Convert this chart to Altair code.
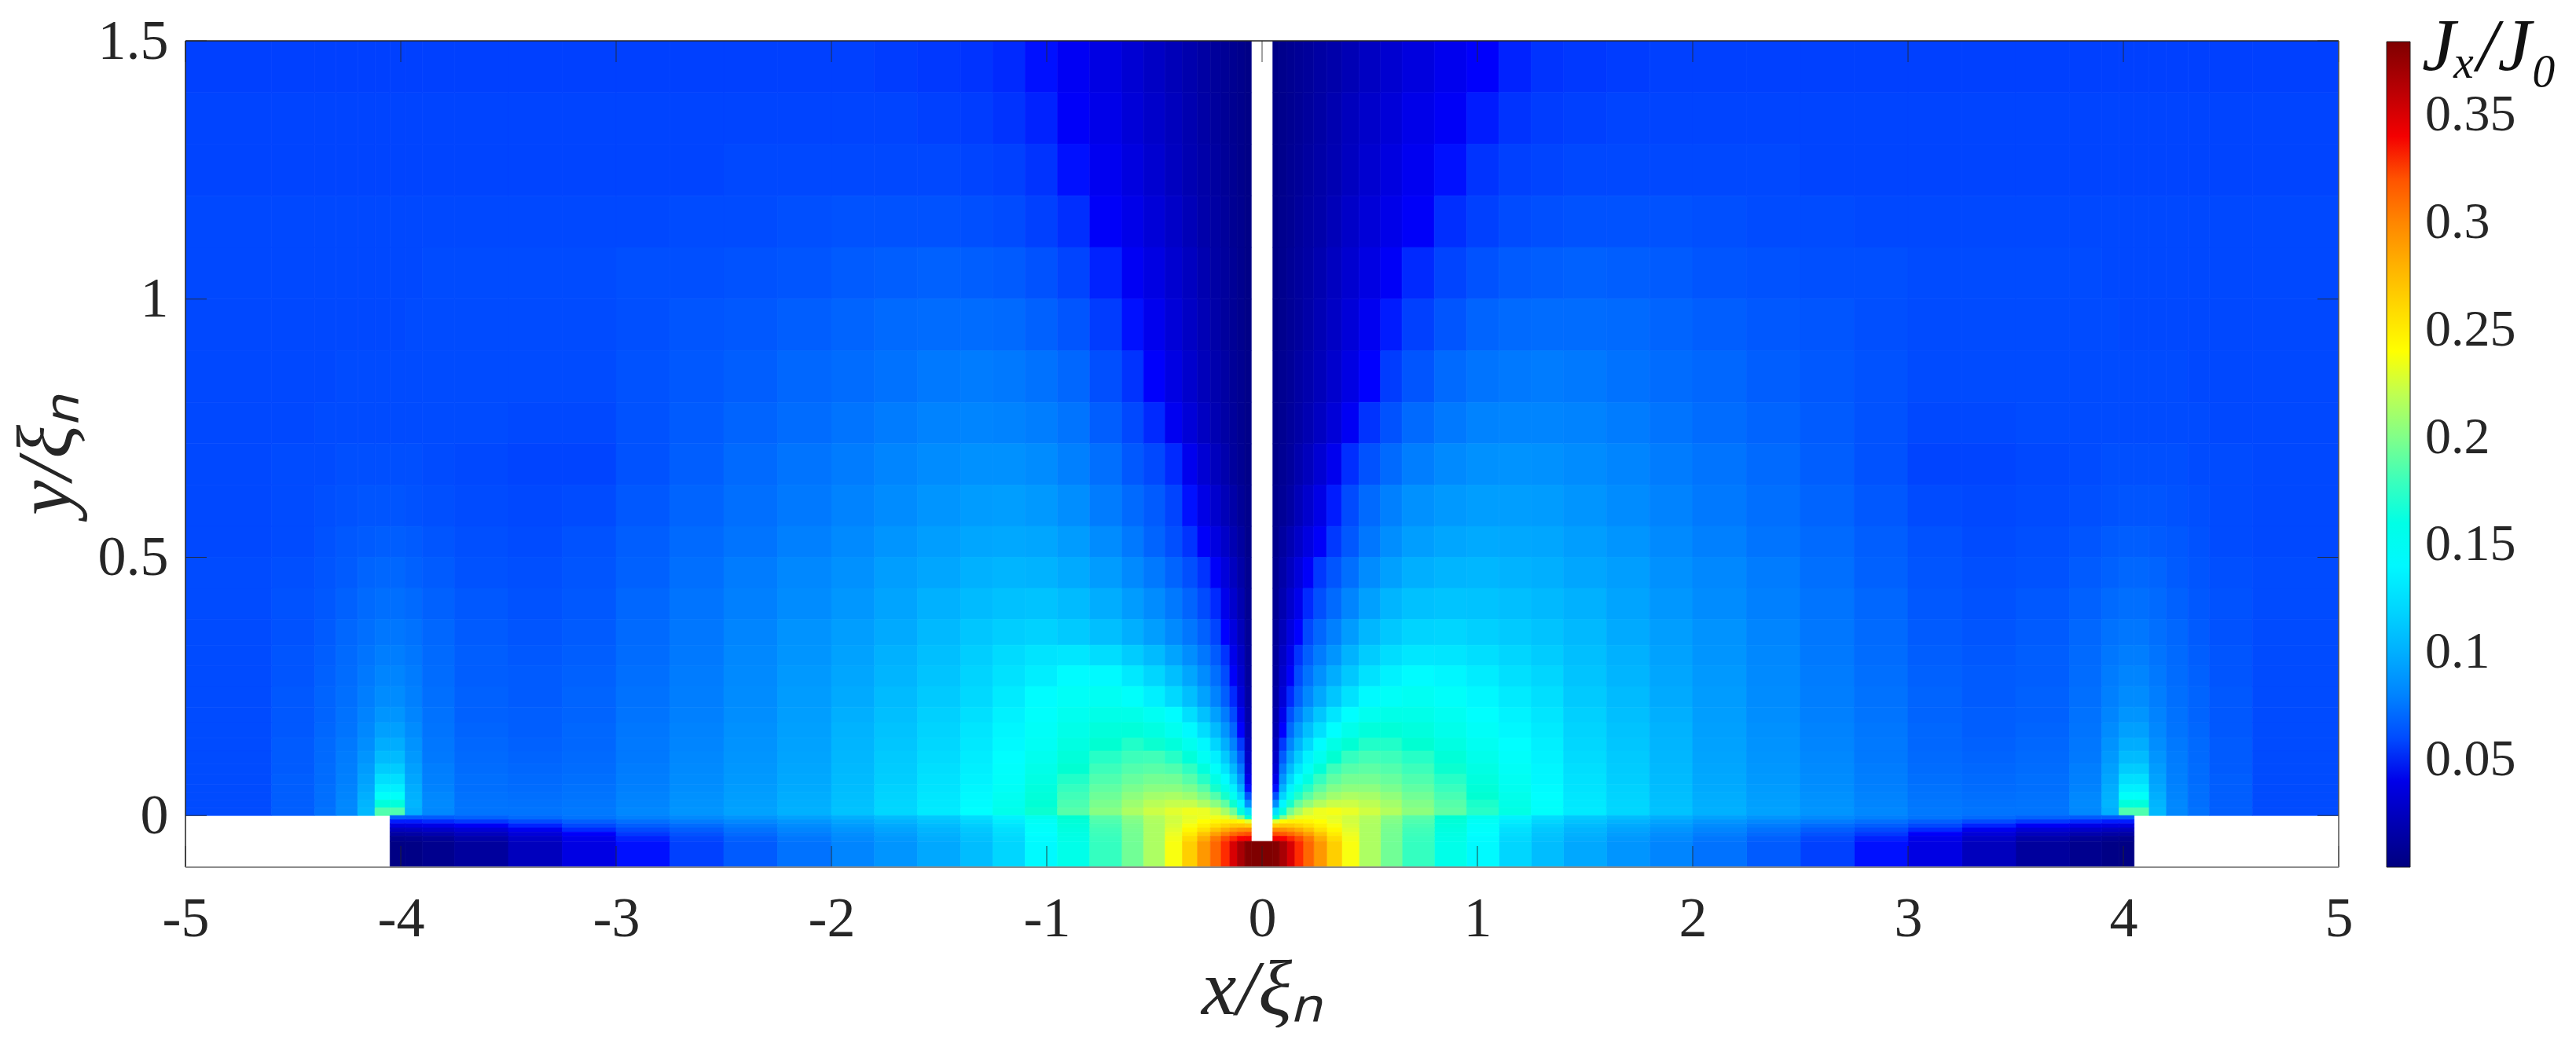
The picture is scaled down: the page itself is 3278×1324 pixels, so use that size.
import altair as alt
import pandas as pd

# ---- grid edges (left half; right half mirrors the edges)
x_edges_left = [-5, -4.6, -4.4, -4.3, -4.2, -4.12, -4.05, -3.98, -3.9, -3.75, -3.5, -3.25, -3, -2.75, -2.5,
                -2.25, -2, -1.8, -1.6, -1.4, -1.25, -1.1, -.95, -.8, -.65, -.55, -.45, -.37, -.3, -.24,
                -.19, -.15, -.115, -.08, -.05]
y_edges_upper = [1.5, 1.4, 1.3, 1.2, 1.1, 1.0, .9, .8, .72, .64, .56, .5, .44, .38, .33, .29, .25, .21, .18,
                 .15, .125, .1, .08, .06, .045, .03, .015, 0]
y_edges_strip = [0, -.008, -.016, -.024, -.032, -.04, -.05, -.1]

# ---- Jx/J0 x 1000 above y=0, x from -5 towards the slit, one list per y band, top to bottom
left_rows = [
    [57,57,57,57,57,57,57,57,57,57,57,57, 57,57,57,57, 57,56,55,54,52,49,44,38,32,27,22,18,14,11,9,7,5,3],
    [58,58,58,58,58,58,58,58,58,58,58,58, 58,58,58,58, 58,58,57,56,54,51,46,40,34,29,24,19,15,12,9,7,5,3],
    [58,58,58,58,58,58,58,58,58,58,58,58, 58,58,59,59, 59,59,59,58,57,54,49,43,37,31,25,20,16,13,10,8,5,3],
    [59,59,59,59,59,59,59,59,59,59,59,59, 59,60,60,61, 62,62,62,61,60,57,53,46,40,34,28,22,17,14,11,8,6,3],
    [59,59,59,59,59,59,59,59,60,60,60,60, 61,61,62,63, 65,66,67,66,65,62,58,51,44,38,31,25,19,15,12,9,6,3],
    [59,59,59,59,59,59,59,60,60,60,60,60, 61,63,64,66, 68,70,71,71,70,67,63,56,49,42,34,27,21,16,12,9,6,3],
    [59,59,59,60,60,60,60,60,60,60,60,60, 62,64,66,69, 71,73,76,77,76,73,69,61,54,47,38,30,23,18,14,10,7,4],
    [59,59,60,60,60,60,60,60,60,60,59,59, 62,65,68,71, 74,77,80,81,80,78,74,66,59,52,43,34,26,20,15,11,7,4],
    [59,60,60,61,61,61,61,61,60,59,58,58, 62,66,70,74, 77,81,84,86,86,84,79,72,64,59,52,42,32,24,18,12,8,4],
    [59,60,61,62,63,63,63,62,61,60,59,60, 64,68,72,76, 80,84,88,91,92,90,85,77,70,65,58,49,39,30,22,16,10,5],
    [59,60,62,64,65,66,66,65,63,61,60,62, 66,70,74,79, 83,88,92,96,97,96,91,84,76,68,61,54,46,37,28,20,13,5],
    [60,61,63,65,68,69,69,67,65,62,61,63, 67,72,77,82, 86,92,96,101,103,102,98,91,83,76,68,61,54,46,35,25,16,7],
    [60,62,64,67,70,72,72,70,67,64,62,64, 69,74,79,84, 89,95,101,106,109,110,106,99,91,84,76,68,60,52,41,30,19,8],
    [60,62,65,69,72,75,75,73,69,65,63,65, 70,75,81,87, 92,98,105,112,116,118,114,108,100,92,83,75,67,58,48,36,23,10],
    [60,63,66,70,74,78,78,75,70,66,64,66, 71,76,82,88, 94,101,108,116,123,128,130,124,115,106,95,85,75,65,54,41,27,11],
    [60,63,67,71,76,81,81,77,71,66,65,67, 72,77,83,90, 96,103,111,119,127,134,142,141,131,120,108,96,84,72,60,46,30,12],
    [60,64,68,72,78,84,84,79,72,67,65,68, 73,78,84,91, 98,106,114,122,132,143,150,152,147,135,122,108,94,80,66,52,34,14],
    [60,64,68,73,80,88,88,81,73,67,66,68, 74,79,85,92, 100,108,117,126,136,146,154,159,158,152,143,125,109,93,77,60,41,17],
    [60,64,69,74,82,93,93,84,74,68,66,69, 75,80,86,93, 102,110,119,129,139,149,158,165,166,162,154,141,124,106,88,69,48,20],
    [60,65,70,76,85,99,99,87,75,69,67,69, 76,81,87,94, 103,112,121,131,141,151,162,170,174,171,165,155,140,120,100,80,55,24],
    [60,65,70,77,88,106,106,90,76,70,68,70, 76,82,88,95, 104,114,123,133,144,155,166,175,180,181,175,166,151,135,114,92,65,28],
    [60,65,71,78,91,115,115,93,78,71,69,71, 77,83,89,96, 105,115,125,135,146,158,170,180,186,188,185,177,164,148,128,105,76,33],
    [60,66,71,79,94,125,125,96,79,72,70,72, 78,84,90,97, 106,116,127,137,148,161,174,185,192,196,195,187,175,160,143,120,88,40],
    [60,66,72,80,97,135,135,99,80,72,71,73, 79,85,91,98, 107,118,128,139,150,164,178,190,198,203,203,198,187,172,157,136,102,49],
    [60,66,72,81,100,148,148,101,82,73,72,74, 80,86,92,99, 108,119,130,141,153,166,181,194,204,211,213,209,199,186,172,153,120,62],
    [60,66,72,82,103,165,165,103,83,74,73,75, 81,87,93,100, 109,120,131,142,155,168,184,198,209,218,222,222,214,203,190,171,140,85],
    [60,66,73,82,105,185,185,100,82,74,74,76, 82,88,94,101, 110,121,132,144,157,171,187,202,214,224,231,235,234,225,212,195,165,125],
]
# the right lobe differs a little: x from the slit out to x=1.4, same y bands
right_inner_rows = [
    [3,5,7,9,11,14,17,21,26,31,36,42,47,51,54],
    [3,5,7,9,12,15,19,24,29,34,40,45,50,54,56],
    [3,5,8,10,13,16,20,25,31,37,43,49,54,57,58],
    [3,6,8,11,14,17,22,28,34,40,46,53,57,60,61],
    [3,6,9,12,15,19,25,31,38,45,52,58,62,65,66],
    [3,6,9,12,16,21,27,34,43,50,57,63,68,70,71],
    [4,7,10,14,18,23,30,38,48,56,63,70,74,76,77],
    [4,7,11,15,20,26,34,44,54,62,70,76,80,81,81],
    [4,8,12,18,24,32,42,53,62,70,78,83,86,87,86],
    [5,9,14,22,30,39,50,60,70,79,86,90,92,92,91],
    [5,13,20,28,37,46,55,64,75,85,92,96,98,97,96],
    [7,16,25,35,46,55,63,72,84,93,100,103,104,102,100],
    [8,19,30,41,52,61,70,81,93,103,109,111,110,108,105],
    [10,23,36,48,59,69,79,91,104,113,119,120,117,114,110],
    [11,27,41,54,66,77,88,102,115,124,130,129,125,120,115],
    [12,30,46,60,73,86,99,113,127,136,142,139,133,126,120],
    [14,34,52,67,82,97,112,127,141,149,152,148,140,132,125],
    [17,41,61,78,95,112,129,144,154,159,158,153,145,137,129],
    [20,48,70,90,108,126,144,157,165,167,164,157,149,140,132],
    [24,55,81,102,122,143,160,169,174,174,170,162,153,144,135],
    [28,65,93,116,137,154,170,178,182,180,175,167,157,147,137],
    [33,76,106,130,150,167,180,187,189,186,180,171,161,150,139],
    [40,88,121,145,162,178,190,196,196,192,185,175,164,152,140],
    [49,102,137,159,175,189,200,204,204,198,190,179,167,154,142],
    [62,120,154,174,188,201,210,214,212,205,195,183,170,157,144],
    [85,140,172,192,205,216,223,224,219,211,200,187,173,159,146],
    [125,165,196,213,227,235,237,233,225,216,204,190,175,161,147],
]
# strip below y=0, x from -4.05 towards the slit, top band to bottom band
strip_rows = [
    [66,65,65,67,70,74,79,83,88,94,100,107,114,124,137,154,170,187,202,216,226,232,235,236,233,222,200,170],
    [50,50,52,55,60,66,72,77,82,88,95,102,110,120,133,150,167,185,200,215,226,234,240,245,247,247,243,232],
    [36,37,39,44,51,59,66,71,77,84,91,98,106,116,129,148,165,183,198,214,228,238,247,256,262,267,268,265],
    [24,25,28,33,42,52,60,66,73,81,88,95,103,113,126,146,163,181,197,214,231,243,256,271,282,290,295,297],
    [14,15,18,24,34,46,55,62,70,78,85,92,101,111,124,144,161,180,196,214,234,250,270,288,302,312,318,322],
    [6,7,10,17,28,41,51,59,67,75,83,90,99,109,122,142,160,179,196,214,236,258,282,305,322,332,338,340],
    [2,3,6,12,24,38,49,57,65,73,81,88,97,107,120,141,158,178,195,214,238,265,292,313,331,350,368,382],
]
under_slit_value = 384

x_ticks = [-5, -4, -3, -2, -1, 0, 1, 2, 3, 4, 5]
y_ticks = [0, 0.5, 1, 1.5]
cb_ticks = [0.05, 0.1, 0.15, 0.2, 0.25, 0.3, 0.35]
cb_domain = [0, 0.384]
jet_stops = [0, 0.048, 0.144, 0.24, 0.336, 0.384]
jet_colors = ["#00007f", "#0000ff", "#00ffff", "#ffff00", "#ff0000", "#7f0000"]

# ---- table
cells = []
def add(x0, x1, y0, y1, v):
    cells.append({"x0": x0, "x1": x1, "y0": y0, "y1": y1, "v": v / 1000})

N = len(x_edges_left) - 1
for i, (row, inner) in enumerate(zip(left_rows, right_inner_rows)):
    y0, y1 = y_edges_upper[i + 1], y_edges_upper[i]
    for j, v in enumerate(row):
        add(x_edges_left[j], x_edges_left[j + 1], y0, y1, v)
    right = list(inner) + row[:N - len(inner)][::-1]
    for j, v in enumerate(right):
        add(-x_edges_left[N - j], -x_edges_left[N - 1 - j], y0, y1, v)
for i, row in enumerate(strip_rows):
    y1, y0 = y_edges_strip[i], y_edges_strip[i + 1]
    for j, v in enumerate(row):
        add(x_edges_left[6 + j], x_edges_left[7 + j], y0, y1, v)
        add(-x_edges_left[7 + j], -x_edges_left[6 + j], y0, y1, v)
add(-.05, .05, -.1, -.05, under_slit_value)
df = pd.DataFrame(cells)

W, H = 2740, 1052
FONT = "Liberation Serif"
INK = "#262626"
xs = alt.Scale(domain=[-5, 5], nice=False, zero=False)
ys = alt.Scale(domain=[-0.1, 1.5], nice=False, zero=False)
jet = alt.Scale(domain=jet_stops, range=jet_colors, clamp=True)

heat = alt.Chart(df).mark_rect(strokeWidth=0.7, clip=True).encode(
    x=alt.X("x0:Q", scale=xs, axis=alt.Axis(
        values=x_ticks, ticks=False, domain=False, grid=False, labelExpr="toString(datum.value)",
        labelFont=FONT, labelFontSize=72, labelColor=INK, labelPadding=30, labelOverlap=False,
        labelFlush=False, title="x/ξₙ", titleFont=FONT, titleFontSize=100, titleFontStyle="italic",
        titleFontWeight="normal", titleColor=INK, titlePadding=6)),
    x2="x1:Q",
    y=alt.Y("y0:Q", scale=ys, axis=alt.Axis(
        values=y_ticks, ticks=False, domain=False, grid=False, labelExpr="toString(datum.value)",
        labelFont=FONT, labelFontSize=72, labelColor=INK, labelPadding=22, labelOverlap=False,
        labelFlush=False, title="y/ξₙ", titleFont=FONT, titleFontSize=100, titleFontStyle="italic",
        titleFontWeight="normal", titleColor=INK, titlePadding=14)),
    y2="y1:Q",
    color=alt.Color("v:Q", scale=jet, legend=alt.Legend(
        type="gradient", orient="none", legendX=2801, legendY=1, direction="vertical",
        gradientLength=H - 1, gradientThickness=30, gradientStrokeColor=INK, gradientStrokeWidth=1,
        values=cb_ticks, format=".2~f", labelFont=FONT, labelFontSize=66, labelColor=INK,
        labelOffset=19, labelOverlap=False, title=None)),
    stroke=alt.Stroke("v:Q", scale=jet, legend=None),
)

TICK = 27
x_t = pd.DataFrame({"t": x_ticks})
y_t = pd.DataFrame({"t": y_ticks})
tick_kw = dict(color=INK, strokeWidth=1, opacity=0.85)
x_bottom = alt.Chart(x_t).mark_rule(**tick_kw).encode(
    x=alt.X("t:Q", scale=xs), y=alt.value(H - TICK), y2=alt.value(H))
x_top = alt.Chart(x_t).mark_rule(**tick_kw).encode(
    x=alt.X("t:Q", scale=xs), y=alt.value(0), y2=alt.value(TICK))
y_left = alt.Chart(y_t).mark_rule(**tick_kw).encode(
    y=alt.Y("t:Q", scale=ys, axis=None), x=alt.value(0), x2=alt.value(TICK))
y_right = alt.Chart(y_t).mark_rule(**tick_kw).encode(
    y=alt.Y("t:Q", scale=ys, axis=None), x=alt.value(W - TICK), x2=alt.value(W))

cb_t = alt.Chart(pd.DataFrame({"t": cb_ticks})).mark_rule(**tick_kw).encode(
    y=alt.Y("t:Q", scale=alt.Scale(domain=cb_domain, nice=False, zero=False, range=[H, 1]), axis=None),
    x=alt.value(2820), x2=alt.value(2831))

one = pd.DataFrame({"a": [0]})
def line(color, width, **enc):
    return alt.Chart(one).mark_rule(color=color, strokeWidth=width).encode(**enc)
box = [
    line(INK, 1.5, x=alt.value(0), x2=alt.value(W), y=alt.value(0)),
    line(INK, 1.5, x=alt.value(0), y=alt.value(0), y2=alt.value(H)),
    line("#555555", 1.5, x=alt.value(W), y=alt.value(0), y2=alt.value(H)),
    line("#8c8c8c", 2, x=alt.value(0), x2=alt.value(W), y=alt.value(H)),
]

cb_title = alt.Chart(pd.DataFrame({"t": ["Jₓ/J₀"]})).mark_text(
    font=FONT, fontSize=96, fontStyle="italic", color="#111111", align="left", baseline="alphabetic"
).encode(x=alt.value(2846), y=alt.value(38), text="t:N")

chart = alt.layer(heat, x_bottom, x_top, y_left, y_right, *box, cb_t, cb_title).resolve_scale(
    y="independent", color="independent"
).properties(
    width=W, height=H,
    padding={"left": 228, "top": 44, "right": 294, "bottom": 204},
    autosize=alt.AutoSizeParams(type="none"),
).configure_view(stroke=None).configure(background="white")

chart.save("out.html", embed_options={"renderer": "svg", "actions": False})
